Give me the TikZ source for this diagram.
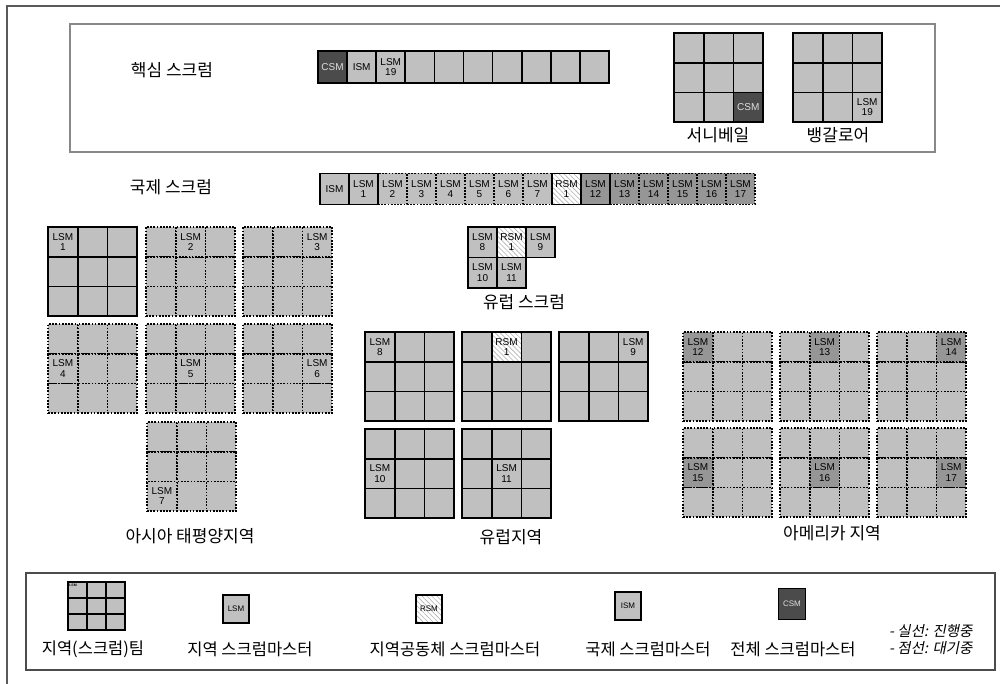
\documentclass[tikz,border=0pt]{standalone}
\usepackage{fontspec}
\usepackage{tikz}
\usetikzlibrary{positioning,patterns.meta}
\newfontfamily\kfont{Noto Sans CJK KR}
\newfontfamily\kslant[FakeSlant=0.2]{Noto Sans CJK KR}
\newfontfamily\lfont{Liberation Sans}
\definecolor{cellgray}{HTML}{C0C0C0}
\definecolor{amgray}{HTML}{969696}
\definecolor{csmgray}{HTML}{4B4B4B}
\definecolor{framegray}{HTML}{888888}

\begin{document}
\begin{tikzpicture}[x=1pt, y=-1pt,
  cell/.style={minimum width=29.7pt, minimum height=29.7pt, inner sep=0pt,
               fill=cellgray, font=\lfont\fontsize{10}{10.5}\selectfont, align=center},
  run/.style={draw=black, line width=1.7pt},
  wait/.style={draw=black, line width=1.7pt, dash pattern=on 1.7pt off 1.5pt},
  lsmf/.style={fill=cellgray},
  amf/.style={fill=amgray},
  csmf/.style={fill=csmgray, text=gray!25},
  rsmf/.style={preaction={fill=white},
               pattern={Lines[angle=-45, distance=3.5pt, line width=0.6pt]},
               pattern color=gray!60},
  title/.style={font=\kfont\fontsize{17}{19}\selectfont, inner sep=0pt},
  key/.style={font=\kfont\fontsize{16.5}{18}\selectfont, inner sep=0pt},
  note/.style={font=\kslant\fontsize{14.5}{16}\selectfont, inner sep=0pt, anchor=west},
  mini/.style={cell, run, minimum width=26pt, minimum height=28pt,
               font=\lfont\fontsize{8}{9}\selectfont},
]
\useasboundingbox (0,0) rectangle (1000,684);

% ---- frames ----
\draw[gray!70!black, line width=1.2pt] (7,684) -- (7,6) -- (1000,6);
\draw[framegray, line width=2.6pt] (70,24) rectangle (935,152);
\draw[gray!60!black, line width=1.4pt] (26,573) rectangle (995,670);

% ---- core scrum row ----
\foreach \i/\mf/\ml in {0/csmf/CSM, 1/lsmf/ISM, 2/lsmf/{LSM\\19}, 3/lsmf/{},
                        4/lsmf/{}, 5/lsmf/{}, 6/lsmf/{}, 7/lsmf/{}, 8/lsmf/{}, 9/lsmf/{}}
  \node[cell, run, \mf, minimum width=29.1pt, minimum height=32pt] (core\i)
    at (318+29.1*\i+14.55, 67) {\ml};

% ---- international scrum row (dotted ones first) ----
\foreach \i/\bd/\mf/\ml in {2/wait/lsmf/{LSM\\2}, 3/wait/lsmf/{LSM\\3},
    4/wait/lsmf/{LSM\\4}, 5/wait/lsmf/{LSM\\5}, 6/wait/lsmf/{LSM\\6},
    7/wait/lsmf/{LSM\\7}, 10/wait/amf/{LSM\\13}, 11/wait/amf/{LSM\\14},
    12/wait/amf/{LSM\\15}, 13/wait/amf/{LSM\\16}, 14/wait/amf/{LSM\\17},
    0/run/lsmf/ISM, 1/run/lsmf/{LSM\\1}, 8/run/rsmf/{RSM\\1}, 9/run/amf/{LSM\\12}}
  \node[cell, \bd, \mf, minimum width=29pt, minimum height=31pt] (int\i)
    at (320+29*\i+14.5, 189) {\ml};

% ---- europe scrum ----
\foreach \n/\i/\j/\mf/\ml in {es1/0/0/lsmf/{LSM\\8}, es2/1/0/rsmf/{RSM\\1},
    es3/2/0/lsmf/{LSM\\9}, es4/0/1/lsmf/{LSM\\10}, es5/1/1/lsmf/{LSM\\11}}
  \node[cell, run, \mf, minimum width=29pt, minimum height=30.5pt] (\n)
    at (468+29*\i+14.5, 227+30.5*\j+15.25) {\ml};

% ---- team grids: name/left/top/line/master col/master row/fill/label ----
\foreach \g/\gx/\gy/\bd/\mi/\mj/\mf/\ml in {
    sv/674/33/run/2/2/csmf/CSM, bg/793/33/run/2/2/lsmf/{LSM\\19},
    as1/48/227/run/0/0/lsmf/{LSM\\1}, as2/146/227/wait/1/0/lsmf/{LSM\\2},
    as3/243/227/wait/2/0/lsmf/{LSM\\3}, as4/48/324/wait/0/1/lsmf/{LSM\\4},
    as5/146/324/wait/1/1/lsmf/{LSM\\5}, as6/243/324/wait/2/1/lsmf/{LSM\\6},
    as7/147/422/wait/0/2/lsmf/{LSM\\7},
    eu1/365/332/run/0/0/lsmf/{LSM\\8}, eu2/462/332/run/1/0/rsmf/{RSM\\1},
    eu3/559/332/run/2/0/lsmf/{LSM\\9}, eu4/365/429/run/0/1/lsmf/{LSM\\10},
    eu5/462/429/run/1/1/lsmf/{LSM\\11},
    am1/683/332/wait/0/0/amf/{LSM\\12}, am2/780/332/wait/1/0/amf/{LSM\\13},
    am3/877/332/wait/2/0/amf/{LSM\\14}, am4/683/428/wait/0/1/amf/{LSM\\15},
    am5/780/428/wait/1/1/amf/{LSM\\16}, am6/877/428/wait/2/1/amf/{LSM\\17}}{
  \foreach \i in {0,1,2}
    \foreach \j in {0,1,2}
      \node[cell, \bd] (\g-\i\j) at (\gx+29.7*\i+14.85, \gy+29.7*\j+14.85) {};
  \node[cell, \bd, \mf] (\g-m) at (\g-\mi\mj) {\ml};
}

% ---- titles ----
\node[title] (coreT) at (172,70) {핵심 스크럼};
\node[title] (intT) at (171,187) {국제 스크럼};
\node[title] (svT) at (718,135) {서니베일};
\node[title] (bgT) at (838,135) {뱅갈로어};
\node[title] (esT) at (524,302) {유럽 스크럼};
\node[title] (asT) at (190,536) {아시아 태평양지역};
\node[title] (euT) at (511,537) {유럽지역};
\node[title] (amT) at (832,533) {아메리카 지역};

% ---- legend ----
\foreach \i in {0,1,2}
  \foreach \j in {0,1,2}
    \node[cell, run, minimum width=19pt, minimum height=16pt] (tm\i\j)
      at (68+19*\i+9.5, 582+16*\j+8) {};
\node[font=\lfont\bfseries\fontsize{3.5}{4}\selectfont, inner sep=0pt,
      anchor=north west, xshift=2pt, yshift=-3pt] (tmL) at (tm00.north west) {LSM};
\node[mini, lsmf] (kL) at (236,609) {LSM};
\node[mini, rsmf] (kR) at (429,609) {RSM};
\node[mini, lsmf] (kI) at (628,606) {ISM};
\node[mini, csmf, minimum width=27pt, minimum height=31pt] (kC) at (792,604) {CSM};

\node[key] (tmT) at (93,649) {지역(스크럼)팀};
\node[key] (kLT) at (250,649) {지역 스크럼마스터};
\node[key] (kRT) at (455,649) {지역공동체 스크럼마스터};
\node[key] (kIT) at (648,649) {국제 스크럼마스터};
\node[key] (kCT) at (793,649) {전체 스크럼마스터};
\node[note] (n1) at (889,631) {- 실선: 진행중};
\node[note] (n2) at (889,648) {- 점선: 대기중};

\end{tikzpicture}
\end{document}
